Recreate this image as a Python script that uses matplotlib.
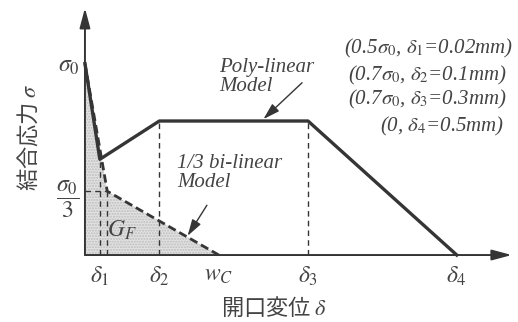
import numpy as np
import matplotlib
matplotlib.use("Agg")
import matplotlib.pyplot as plt

# poly-linear softening law (opening in mm, stress as fraction of sigma0)
poly_d = [0.0, 0.02, 0.1, 0.3, 0.5]
poly_s = [1.0, 0.5, 0.7, 0.7, 0.0]
# 1/3 bi-linear law
bi_d = [0.0, 0.03, 0.18]
bi_s = [1.0, 1 / 3, 0.0]

xtick_pos = [0.02, 0.1, 0.18, 0.3, 0.5]
xtick_lab = [r'$\delta_1$', r'$\delta_2$', r'$w_C$', r'$\delta_3$', r'$\delta_4$']
ytick_pos = [1.0, 1 / 3]
ytick_lab = [r'$\sigma_0$', r'$\dfrac{\sigma_0}{3}$']

param_lines = [r'(0.5$\sigma_0$, $\delta_1$=0.02mm)',
               r'(0.7$\sigma_0$, $\delta_2$=0.1mm)',
               r'(0.7$\sigma_0$, $\delta_3$=0.3mm)',
               r'(0, $\delta_4$=0.5mm)']

plt.rcParams['mathtext.fontset'] = 'stix'
plt.rcParams['font.family'] = ['Liberation Serif', 'DejaVu Serif']

ink = '#353535'
txt = '#444444'
jp = ['Noto Sans CJK JP', 'DejaVu Sans']

fig = plt.figure(figsize=(5.18, 3.22), dpi=100)
ax = fig.add_axes([0.164, 0.208, 0.824, 0.767])
ax.set_xlim(0, 0.574)
ax.set_ylim(0, 1.29)
for s in ax.spines.values():
    s.set_visible(False)

# shaded fracture energy area under the bi-linear curve
ax.fill_between(bi_d, bi_s, 0, facecolor='#e2e2e2', edgecolor='#bdbdbd',
                hatch='......', lw=0)

# guide lines
dash = dict(colors=ink, linestyles=(0, (4, 3)), lw=1.0)
ax.vlines([poly_d[1]], 0, poly_s[1], **dash)
ax.vlines([bi_d[1]], 0, bi_s[1], **dash)
ax.vlines([poly_d[2], poly_d[3]], 0, poly_s[2], **dash)
ax.hlines(bi_s[1], 0, bi_d[1], **dash)

ax.plot(bi_d, bi_s, color=ink, lw=2.0, ls=(0, (3, 1.5)), clip_on=False)
ax.plot(poly_d, poly_s, color=ink, lw=2.4, clip_on=False)

# axes with arrow heads
arr = dict(arrowstyle='-|>,head_length=1.2,head_width=0.32', lw=1.4,
           color=ink, shrinkA=0, shrinkB=0, mutation_scale=10)
ax.annotate('', xy=(1.0, 0), xytext=(0, 0), xycoords='axes fraction', arrowprops=arr)
ax.annotate('', xy=(0, 1.0), xytext=(0, 0), xycoords='axes fraction', arrowprops=arr)

ax.set_xticks(xtick_pos, xtick_lab)
ax.set_yticks(ytick_pos, ytick_lab)
ax.tick_params(axis='both', length=0, labelsize=17, colors=txt)
ax.tick_params(axis='x', pad=7)
ax.tick_params(axis='y', pad=4)

ax.set_xlabel(r'開口変位 $\delta$', family=jp, fontsize=16, color=txt)
ax.xaxis.set_label_coords(0.443, -0.215)
ax.xaxis.label.set_va('center')
ax.set_ylabel(r'結合応力 $\sigma$', family=jp, fontsize=16, color=txt)
ax.yaxis.set_label_coords(-0.133, 0.478)
ax.yaxis.label.set_va('center')

# model captions with pointers
ax.text(0.181, 1.03, 'Poly-linear\nModel', fontsize=15, style='italic',
        color=txt, va='top', ha='left', linespacing=1.0)
ax.annotate('', xy=(0.24, 0.71), xytext=(0.292, 0.9),
            arrowprops=dict(arrowstyle='-|>,head_length=1.0,head_width=0.3',
                            lw=1.0, color=ink, mutation_scale=10,
                            shrinkA=0, shrinkB=0))
ax.text(0.124, 0.53, '1/3 bi-linear\nModel', fontsize=15, style='italic',
        color=txt, va='top', ha='left', linespacing=1.0)
ax.annotate('', xy=(0.138, 0.10), xytext=(0.164, 0.26),
            arrowprops=dict(arrowstyle='-|>,head_length=1.0,head_width=0.3',
                            lw=1.0, color=ink, mutation_scale=10,
                            shrinkA=0, shrinkB=0))
ax.text(0.05, 0.13, r'$G_F$', fontsize=17, color=txt, ha='center', va='center')

# model parameters
px = [0.462, 0.461, 0.461, 0.481]
py = [1.08, 0.94, 0.81, 0.67]
for x, y, s in zip(px, py, param_lines):
    ax.text(x, y, s, fontsize=15, style='italic', color=txt,
            ha='center', va='center')

fig.savefig('out.png', dpi=100)
